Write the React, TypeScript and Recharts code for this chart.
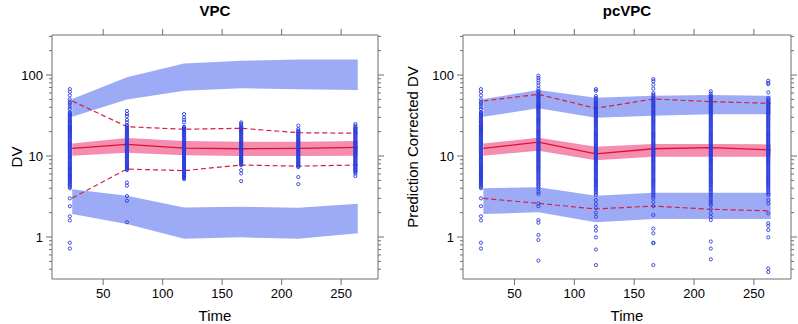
import React from 'react';
import { ComposedChart, Area, Line, Scatter, XAxis, YAxis } from 'recharts';

// bin times (observations and prediction-interval midpoints)
const obsTimes = [22, 70, 118, 166, 214, 262];
const binTimes = [24, 70, 118, 166, 214, 264];

const xTicks = [50, 100, 150, 200, 250];
const yMajor = [1, 10, 100];
const yTicks = [0.4, 0.5, 0.6, 0.7, 0.8, 0.9, 1, 2, 3, 4, 5, 6, 7, 8, 9, 10, 20, 30, 40, 50, 60, 70, 80, 90, 100, 200, 300];

// VPC
const vpcPi95Lo = [30.6, 50, 64, 68.5, 66.5, 65.3];
const vpcPi95Hi = [50.6, 93.7, 139, 150, 156, 156];
const vpcPi50Lo = [10.1, 11, 10.2, 10, 10, 10.1];
const vpcPi50Hi = [14.3, 16.7, 15.3, 15, 15, 15.3];
const vpcPi05Lo = [1.92, 1.45, 0.95, 0.99, 0.95, 1.11];
const vpcPi05Hi = [3.9, 3.24, 2.32, 2.37, 2.3, 2.58];
const vpcObsMed = [12.4, 13.9, 12.5, 12.3, 12.4, 12.8];
const vpcObs95 = [47.8, 23, 21.4, 22, 19.4, 19.1];
const vpcObs05 = [3.03, 6.9, 6.6, 7.74, 7.5, 7.74];

const firstBinDv = [
  67, 62, 56, 50, 47, 45, 43, 40, 38, 35, 33, 31, 29, 27, 26, 24, 23, 22, 21, 20, 19, 18, 17, 16, 15, 14.2, 13.5, 12.8, 12, 11.3,
  10.7, 10, 9.4, 8.8, 8.3, 7.8, 7.3, 6.9, 6.5, 6.1, 5.8, 5.5, 5.2, 4.9, 4.6, 4.3, 4.0, 3.0, 2.4, 1.8, 1.6, 0.85, 0.72,
  34, 32, 30, 28, 26.5, 25, 23.5, 22.5, 21.5, 20.5, 19.5, 18.5, 17.5, 16.5, 15.5, 14.6, 13.8, 13.1, 12.4, 11.6, 11, 10.3, 9.7,
  9.1, 8.5, 8, 7.5, 7.1, 6.7, 6.3, 5.95, 5.65, 5.35, 5.05, 4.75, 4.45, 4.15,
];

const vpcDv = [
  firstBinDv,
  [36, 33, 31, 28, 26, 24, 22.5, 21, 20, 19, 18, 17, 16, 15, 14.2, 13.5, 12.8, 12, 11.4, 10.8, 10.2, 9.6, 9.1, 8.6, 8.1, 7.7, 7.3, 6.9, 6.7, 4.7, 4.3, 3.2, 2.8, 1.52,
    23.3, 21.7, 20.5, 19.5, 18.5, 17.5, 16.5, 15.5, 14.6, 13.8, 13.1, 12.4, 11.7, 11.1, 10.5, 9.9, 9.35, 8.85, 8.35, 7.9, 7.5, 7.1],
  [33, 30, 28, 26, 23, 22, 21, 20, 19, 18, 17, 16, 15, 14.2, 13.5, 12.8, 12.1, 11.5, 10.9, 10.3, 9.7, 9.2, 8.7, 8.2, 7.7, 7.3, 6.9, 6.5, 6.1, 5.8, 5.5, 5.2,
    22.5, 21.5, 20.5, 19.5, 18.5, 17.5, 16.5, 15.5, 14.6, 13.8, 13.1, 12.4, 11.8, 11.2, 10.6, 10, 9.45, 8.95, 8.45, 7.95, 7.5, 7.1, 6.7, 6.3, 5.95, 5.65, 5.35],
  [26, 25, 24, 23, 22, 21, 20, 19, 18, 17, 16, 15.2, 14.4, 13.6, 12.9, 12.2, 11.6, 11, 10.4, 9.9, 9.4, 8.9, 8.5, 8.1, 7.7, 6.7, 6.1, 4.9,
    22.5, 21.5, 20.5, 19.5, 18.5, 17.5, 16.5, 15.6, 14.8, 14, 13.2, 12.5, 11.9, 11.3, 10.7, 10.1, 9.65, 9.15, 8.7, 8.3, 7.9],
  [23.7, 21.5, 20, 19, 18, 17, 16, 15.2, 14.4, 13.6, 12.9, 12.2, 11.6, 11, 10.4, 9.9, 9.4, 8.9, 8.4, 8, 7.6, 7.3, 5.5, 4.5,
    20.5, 19.5, 18.5, 17.5, 16.5, 15.6, 14.8, 14, 13.2, 12.5, 11.9, 11.3, 10.7, 10.1, 9.65, 9.15, 8.65, 8.2, 7.8, 7.45],
  [24.8, 23.5, 22, 21, 20, 19, 18, 17, 16, 15.2, 14.4, 13.6, 12.9, 12.2, 11.6, 11, 10.4, 9.9, 9.4, 8.9, 8.4, 8, 7.6, 7.2, 6.8, 6.5, 6.1, 5.66,
    22.5, 21.5, 20.5, 19.5, 18.5, 17.5, 16.5, 15.6, 14.8, 14, 13.2, 12.5, 11.9, 11.3, 10.7, 10.1, 9.65, 9.15, 8.65, 8.2, 7.8, 7.4, 7, 6.65, 6.3],
];

// pcVPC
const pcPi95Lo = [30.6, 38.8, 29.7, 31.5, 32.7, 32.7];
const pcPi95Hi = [50.6, 65.3, 52.5, 55.5, 56.6, 55.5];
const pcPi50Lo = [10.1, 11.6, 8.85, 9.8, 9.8, 9.8];
const pcPi50Hi = [14.3, 16.8, 13, 14.1, 14.1, 13.9];
const pcPi05Lo = [1.92, 2.02, 1.52, 1.67, 1.67, 1.67];
const pcPi05Hi = [4.0, 4.1, 3.24, 3.52, 3.52, 3.52];
const pcObsMed = [12.4, 14.8, 10.6, 12.3, 12.7, 11.9];
const pcObs95 = [47.8, 57.8, 38.8, 50.6, 46.9, 44.7];
const pcObs05 = [3.0, 2.6, 2.22, 2.41, 2.2, 2.1];

const pcDv = [
  firstBinDv,
  [98, 92, 86, 80, 74, 68, 64, 61, 58, 55, 52, 50, 47, 44, 42, 40, 38, 36, 34, 32, 30, 28.5, 27, 25.5, 24, 22.5, 21, 20, 19, 18, 17, 16, 15, 14.2, 13.5, 12.8,
    12.1, 11.5, 10.9, 10.3, 9.7, 9.2, 8.7, 8.2, 7.7, 7.3, 6.9, 6.5, 6.1, 5.7, 5.3, 5.0, 4.6, 4.3, 3.9, 3.6, 3.4, 2.6, 2.4, 1.62, 1.5, 1.06, 0.92, 0.51,
    62, 56, 53, 48.5, 45.5, 43, 41, 39, 37, 35, 33, 31, 29, 27.7, 26.2, 24.7, 23.2, 21.7, 20.5, 19.5, 18.5, 17.5, 16.5, 15.5, 14.6, 13.8, 13.1, 12.4, 11.8,
    11.2, 10.6, 10, 9.45, 8.95, 8.45, 7.95, 7.5, 7.1, 6.7, 6.3, 5.9, 5.5, 5.15, 4.8, 4.45, 4.1],
  [67, 64, 55, 52, 49, 46, 43, 41, 39, 37, 35, 33, 31, 29, 27.5, 26, 24.5, 23, 21.5, 20, 19, 18, 17, 16, 15, 14.2, 13.4, 12.6, 11.9, 11.2, 10.6, 10, 9.4,
    8.9, 8.4, 7.9, 7.4, 7, 6.6, 6.2, 5.8, 5.4, 5.1, 4.8, 4.5, 4.2, 3.9, 3.6, 3.3, 2.86, 2.55, 2.3, 2.0, 1.78, 1.34, 1.2, 0.99, 0.7, 0.45,
    47.5, 44.5, 42, 40, 38, 36, 34, 32, 30, 28.2, 26.7, 25.2, 23.7, 22.2, 20.7, 19.5, 18.5, 17.5, 16.5, 15.5, 14.6, 13.8, 13, 12.2, 11.5, 10.9, 10.3, 9.7,
    9.15, 8.65, 8.15, 7.65, 7.2, 6.8, 6.4, 6, 5.6, 5.25, 4.95, 4.65, 4.35, 4.05, 3.75, 3.45],
  [89, 84, 76, 68, 60, 55, 51, 48, 45, 42, 40, 37, 35, 33, 31, 29, 27.5, 26, 24.5, 23, 21.5, 20, 19, 18, 17, 16, 15, 14.2, 13.4, 12.6, 11.9, 11.2, 10.6,
    10, 9.4, 8.9, 8.4, 7.9, 7.4, 7, 6.6, 6.2, 5.8, 5.4, 5.1, 4.8, 4.5, 4.2, 3.9, 3.6, 3.3, 3.0, 2.7, 2.4, 1.87, 1.27, 1.11, 0.85, 0.84, 0.45,
    57, 53, 49.5, 46.5, 43.5, 41, 38.5, 36, 34, 32, 30, 28.2, 26.7, 25.2, 23.7, 22.2, 20.7, 19.5, 18.5, 17.5, 16.5, 15.5, 14.6, 13.8, 13, 12.2, 11.5,
    10.9, 10.3, 9.7, 9.15, 8.65, 8.15, 7.65, 7.2, 6.8, 6.4, 6, 5.6, 5.25, 4.95, 4.65, 4.35, 4.05, 3.75, 3.45, 3.15],
  [63, 59, 56, 53, 50, 47, 44, 42, 40, 37, 35, 33, 31, 29, 27.5, 26, 24.5, 23, 21.5, 20, 19, 18, 17, 16, 15, 14.2, 13.4, 12.6, 11.9, 11.2, 10.6, 10,
    9.4, 8.9, 8.4, 7.9, 7.4, 7, 6.6, 6.2, 5.8, 5.4, 5.1, 4.8, 4.5, 4.2, 3.9, 3.6, 3.3, 3.0, 2.7, 2.45, 2.2, 1.96, 1.78, 1.62, 0.88, 0.72, 0.53,
    54.5, 51.5, 48.5, 45.5, 43, 41, 38.5, 36, 34, 32, 30, 28.2, 26.7, 25.2, 23.7, 22.2, 20.7, 19.5, 18.5, 17.5, 16.5, 15.5, 14.6, 13.8, 13, 12.2, 11.5,
    10.9, 10.3, 9.7, 9.15, 8.65, 8.15, 7.65, 7.2, 6.8, 6.4, 6, 5.6, 5.25, 4.95, 4.65, 4.35, 4.05, 3.75, 3.45, 3.15, 2.85, 2.57],
  [85, 80, 77, 61, 52, 48, 45, 42, 40, 37, 35, 33, 31, 29, 27.5, 26, 24.5, 23, 21.5, 20, 19, 18, 17, 16, 15, 14.2, 13.4, 12.6, 11.9, 11.2, 10.6, 10,
    9.4, 8.9, 8.4, 7.9, 7.4, 7, 6.6, 6.2, 5.8, 5.4, 5.1, 4.8, 4.5, 4.2, 3.9, 3.6, 3.3, 2.86, 2.6, 1.96, 1.48, 1.38, 1.22, 0.99, 0.41, 0.37,
    50, 46.5, 43.5, 41, 38.5, 36, 34, 32, 30, 28.2, 26.7, 25.2, 23.7, 22.2, 20.7, 19.5, 18.5, 17.5, 16.5, 15.5, 14.6, 13.8, 13, 12.2, 11.5, 10.9, 10.3,
    9.7, 9.15, 8.65, 8.15, 7.65, 7.2, 6.8, 6.4, 6, 5.6, 5.25, 4.95, 4.65, 4.35, 4.05, 3.75, 3.45],
];

const FONT = '"Liberation Sans", Arial, sans-serif';
const FRAME = '#6e6e6e';
const BLUE_BAND = '#9dabf6';
const PINK_BAND = '#f58db1';
const RED = '#e0112f';
const DASH_RED = '#d3203c';
const POINT = '#2a3bdc';

const X_DOMAIN = [7, 281];
const Y_DOMAIN = [0.303, 312];

function bandRows(lo95: number[], hi95: number[], lo50: number[], hi50: number[], lo05: number[], hi05: number[], med: number[], o95: number[], o05: number[]) {
  return binTimes.map((t, i) => ({
    time: t,
    pi95: [lo95[i], hi95[i]],
    pi50: [lo50[i], hi50[i]],
    pi05: [lo05[i], hi05[i]],
    med: med[i],
    obs95: o95[i],
    obs05: o05[i],
  }));
}

function pointRows(cols: number[][]) {
  return obsTimes.flatMap((t, i) => cols[i].map((v) => ({ time: t, dv: v })));
}

const LeftTick = (props: any) => {
  const { x, y, payload } = props;
  const major = yMajor.includes(payload.value);
  const len = major ? 6 : 3;
  return (
    <g>
      <line x1={x} x2={x - len} y1={y} y2={y} stroke={FRAME} />
      {major && (
        <text x={x - 9} y={y} dy={4.5} textAnchor="end" fontSize={13} fontFamily={FONT} fill="#000">
          {payload.value}
        </text>
      )}
    </g>
  );
};

const RightTick = (props: any) => {
  const { x, y, payload } = props;
  const len = yMajor.includes(payload.value) ? 6 : 3;
  return <line x1={x} x2={x + len} y1={y} y2={y} stroke={FRAME} />;
};

const BottomTick = (props: any) => {
  const { x, y, payload } = props;
  return (
    <g>
      <line x1={x} x2={x} y1={y} y2={y + 6} stroke={FRAME} />
      <text x={x} y={y + 18.5} textAnchor="middle" fontSize={13} fontFamily={FONT} fill="#000">
        {payload.value}
      </text>
    </g>
  );
};

const TopTick = (props: any) => {
  const { x, y } = props;
  return <line x1={x} x2={x} y1={y} y2={y - 6} stroke={FRAME} />;
};

const OpenCircle = (props: any) => (
  <circle cx={props.cx} cy={props.cy} r={1.6} fill="none" stroke={POINT} strokeWidth={0.9} />
);

type PanelProps = {
  rows: ReturnType<typeof bandRows>;
  points: { time: number; dv: number }[];
  width: number;
  leftW: number;
  rightW: number;
};

function Panel({ rows, points, width, leftW, rightW }: PanelProps) {
  return (
    <ComposedChart width={width} height={324} margin={{ top: 25, right: 0, bottom: 20, left: 0 }}>
      <XAxis xAxisId="bottom" dataKey="time" type="number" domain={X_DOMAIN} allowDataOverflow ticks={xTicks}
        height={25} stroke={FRAME} tickLine={false} tickSize={0} tickMargin={0} tick={<BottomTick />} interval={0} />
      <XAxis xAxisId="top" orientation="top" dataKey="time" type="number" domain={X_DOMAIN} allowDataOverflow ticks={xTicks}
        height={10} stroke={FRAME} tickLine={false} tickSize={0} tickMargin={0} tick={<TopTick />} interval={0} />
      <YAxis yAxisId="left" type="number" scale="log" domain={Y_DOMAIN} allowDataOverflow ticks={yTicks}
        width={leftW} stroke={FRAME} tickLine={false} tickSize={0} tickMargin={0} tick={<LeftTick />} interval={0} />
      <YAxis yAxisId="right" orientation="right" type="number" scale="log" domain={Y_DOMAIN} allowDataOverflow ticks={yTicks}
        width={rightW} stroke={FRAME} tickLine={false} tickSize={0} tickMargin={0} tick={<RightTick />} interval={0} />

      <Area xAxisId="bottom" yAxisId="left" data={rows} dataKey="pi95" type="linear" stroke="none" fill={BLUE_BAND} fillOpacity={1} isAnimationActive={false} />
      <Area xAxisId="bottom" yAxisId="left" data={rows} dataKey="pi05" type="linear" stroke="none" fill={BLUE_BAND} fillOpacity={1} isAnimationActive={false} />
      <Area xAxisId="bottom" yAxisId="left" data={rows} dataKey="pi50" type="linear" stroke="none" fill={PINK_BAND} fillOpacity={1} isAnimationActive={false} />

      <Scatter xAxisId="bottom" yAxisId="left" data={points} dataKey="dv" shape={<OpenCircle />} isAnimationActive={false} />

      <Line xAxisId="bottom" yAxisId="left" data={rows} dataKey="med" type="linear" stroke={RED} strokeWidth={1.3} dot={false} isAnimationActive={false} />
      <Line xAxisId="bottom" yAxisId="left" data={rows} dataKey="obs95" type="linear" stroke={DASH_RED} strokeWidth={1.2} strokeDasharray="5 3" dot={false} isAnimationActive={false} />
      <Line xAxisId="bottom" yAxisId="left" data={rows} dataKey="obs05" type="linear" stroke={DASH_RED} strokeWidth={1.2} strokeDasharray="5 3" dot={false} isAnimationActive={false} />
    </ComposedChart>
  );
}

const labelStyle: React.CSSProperties = {
  position: 'absolute',
  fontFamily: FONT,
  color: '#000',
  whiteSpace: 'nowrap',
  lineHeight: 1,
};

export default function App() {
  const vpcRows = bandRows(vpcPi95Lo, vpcPi95Hi, vpcPi50Lo, vpcPi50Hi, vpcPi05Lo, vpcPi05Hi, vpcObsMed, vpcObs95, vpcObs05);
  const pcRows = bandRows(pcPi95Lo, pcPi95Hi, pcPi50Lo, pcPi50Hi, pcPi05Lo, pcPi05Hi, pcObsMed, pcObs95, pcObs05);

  return (
    <div style={{ position: 'absolute', left: 0, top: 0, width: 798, height: 324, background: '#fff', fontFamily: FONT }}>
      <div style={{ position: 'absolute', left: 0, top: 0 }}>
        <Panel rows={vpcRows} points={pointRows(vpcDv)} width={398} leftW={52} rightW={20} />
      </div>
      <div style={{ position: 'absolute', left: 398, top: 0 }}>
        <Panel rows={pcRows} points={pointRows(pcDv)} width={400} leftW={65} rightW={7} />
      </div>

      <div style={{ ...labelStyle, left: 215, top: 10, fontSize: 15, fontWeight: 'bold', transform: 'translate(-50%, -50%)' }}>VPC</div>
      <div style={{ ...labelStyle, left: 627, top: 10, fontSize: 15, fontWeight: 'bold', transform: 'translate(-50%, -50%)' }}>pcVPC</div>

      <div style={{ ...labelStyle, left: 215, top: 315, fontSize: 15, transform: 'translate(-50%, -50%)' }}>Time</div>
      <div style={{ ...labelStyle, left: 627, top: 315, fontSize: 15, transform: 'translate(-50%, -50%)' }}>Time</div>

      <div style={{ ...labelStyle, left: 16, top: 157, fontSize: 15, transform: 'translate(-50%, -50%) rotate(-90deg)' }}>DV</div>
      <div style={{ ...labelStyle, left: 412, top: 147, fontSize: 15, transform: 'translate(-50%, -50%) rotate(-90deg)' }}>Prediction Corrected DV</div>
    </div>
  );
}
